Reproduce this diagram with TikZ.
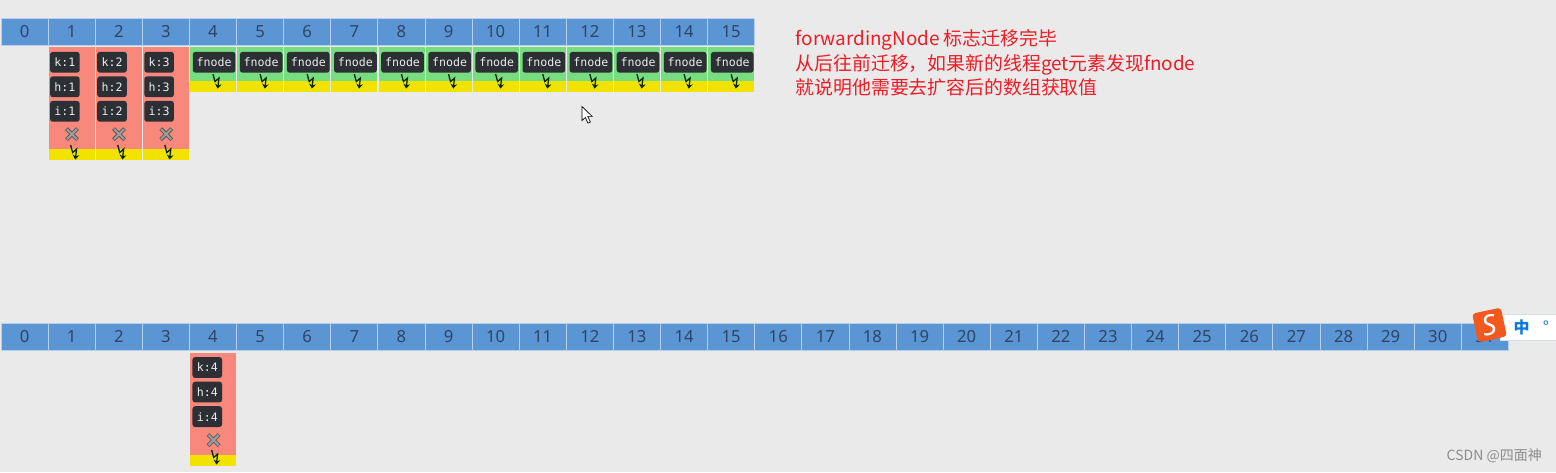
\documentclass[tikz,border=0pt]{standalone}
\usepackage{fontspec}
\setmainfont{Noto Sans}
\newfontfamily\cjk{Noto Sans CJK SC}
\newfontfamily\chipfont{DejaVu Sans Mono}
\usetikzlibrary{arrows.meta,positioning}
\definecolor{Paper}{HTML}{EAEAEA}
\definecolor{CellBlue}{HTML}{5B95D3}
\definecolor{CellLine}{HTML}{B5D0EC}
\definecolor{CellText}{HTML}{2C4666}
\definecolor{LightRed}{HTML}{F8877C}
\definecolor{LightGreen}{HTML}{78DC80}
\definecolor{Yellow}{HTML}{F2E200}
\definecolor{Chip}{HTML}{2C3034}
\definecolor{Note}{HTML}{EE1C25}
\definecolor{Sogou}{HTML}{F4581C}
\definecolor{ImeBlue}{HTML}{0A78E0}
\definecolor{ImeLine}{HTML}{D3DEEE}
\definecolor{Mark}{HTML}{8C8C8C}
\tikzset{
  cell/.style={fill=CellBlue, draw=CellLine, line width=0.6pt, outer sep=0pt, inner sep=0pt, minimum width=35.33pt, minimum height=20.2pt, text height=9pt, text depth=0pt, text=CellText, font=\fontsize{12.5}{14}\selectfont},
  bucket/.style={anchor=north west, fill=LightRed, inner sep=0pt, minimum width=34.5pt, minimum height=76.2pt},
  greenbucket/.style={anchor=north west, fill=LightGreen, inner sep=0pt, minimum width=34.5pt, minimum height=25.2pt},
  band/.style={anchor=north west, fill=Yellow, inner sep=0pt, minimum width=34.5pt, minimum height=8pt},
  chip/.style={fill=Chip, rounded corners=2pt, text=white!92!black, inner sep=0pt, minimum height=15.6pt, minimum width=22.2pt, text height=6.6pt, text depth=0pt, font=\chipfont\fontsize{8.7}{10}\selectfont},
  fnodechip/.style={chip, minimum width=32pt},
  bolt/.pic={\draw[line width=0.95pt, color=black!85!green, -{Stealth[length=3.5pt,width=5pt]}] (-3.5,-7) -- (-1.5,0.5) -- (2.5,-3) -- (1.2,7.5);},
  cross/.pic={\draw[line width=2.9pt, color=black!65] (-5.5,5.5) -- (5.5,-5.5) (-5.5,-5.5) -- (5.5,5.5);
    \draw[line width=1.5pt, color=black!38] (-5,5) -- (5,-5) (-5,-5) -- (5,5);},
}
\begin{document}
\begin{tikzpicture}[x=0.75pt, y=-0.75pt]
\useasboundingbox (0,0) rectangle (1556,472);
\fill[Paper] (0,0) rectangle (1556,472);
\node[cell, anchor=north west] (a0) at (1,18) {0};
\foreach \i [remember=\i as \prev (initially 0)] in {1,...,15}
  \node[cell, right=0pt of a\prev] (a\i) {\i};
\node[cell, anchor=north west] (b0) at (1,323) {0};
\foreach \i [remember=\i as \prev (initially 0)] in {1,...,31}
  \node[cell, right=0pt of b\prev] (b\i) {\i};
\foreach \i in {1,2,3} {
  \node[bucket, below=1.5pt of a\i.south west, anchor=north west, xshift=0.3pt] (r\i) {};
  \node[band] (y\i) at (r\i.south west) {};
  \node[chip, below=3.5pt of r\i.north west, anchor=north, xshift=12.3pt] (k\i) {k:\i};
  \node[chip, below=2.4pt of k\i] (h\i) {h:\i};
  \node[chip, below=2.4pt of h\i] (n\i) {i:\i};
  \pic at ([xshift=17.6pt,yshift=11.2pt]r\i.south west) {cross};
  \pic at ([xshift=19.2pt,yshift=-2.2pt]y\i.north west) {bolt};
}
\foreach \i in {4,...,15} {
  \node[greenbucket, below=1.5pt of a\i.south west, anchor=north west, xshift=0.3pt] (g\i) {};
  \node[band] (y\i) at (g\i.south west) {};
  \node[fnodechip, below=3.5pt of g\i.north west, anchor=north, xshift=18.2pt] (f\i) {fnode};
  \pic at ([xshift=20pt]y\i.north west) {bolt};
}
\node[bucket, below=2.2pt of b4.south west, anchor=north west, xshift=0.3pt] (rb) {};
\node[band] (yb) at (rb.south west) {};
\node[chip, below=3pt of rb.north west, anchor=north, xshift=13.1pt] (kb) {k:4};
\node[chip, below=2.4pt of kb] (hb) {h:4};
\node[chip, below=2.4pt of hb] (nb) {i:4};
\pic at ([xshift=17.8pt,yshift=11.2pt]rb.south west) {cross};
\pic at ([xshift=19pt,yshift=-1.5pt]yb.north west) {bolt};
\node[anchor=north west, align=left, inner sep=0pt, text=Note, font=\cjk\fontsize{14.15}{18.6}\selectfont] (note) at (795.5,29)
  {forwardingNode 标志迁移完毕\\从后往前迁移，如果新的线程get元素发现fnode\\就说明他需要去扩容后的数组获取值};
\draw[black, line width=0.5pt, fill=white] (582,106.5) -- (582,120.5) -- (585.3,117.5) -- (588,123.2) -- (590.4,122) -- (587.8,116.4) -- (592.2,116.4) -- cycle;
\node[fill=white, draw=ImeLine, line width=0.7pt, anchor=west, minimum width=60pt, minimum height=20pt, inner sep=0pt] (ime) at (1500,327.5) {};
\node[anchor=center, text=ImeBlue, font=\cjk\bfseries\fontsize{12}{14}\selectfont, inner sep=0pt] (zh) at (1521.5,327.5) {中};
\node[anchor=center, text=ImeBlue, font=\fontsize{11}{12}\selectfont\bfseries, inner sep=0pt] (dot) at (1546,326.5) {°};
\node[fill=Sogou, rounded corners=2.5pt, rotate=12, minimum size=22pt, inner sep=0pt, text=white, font=\bfseries\itshape\fontsize{21}{22}\selectfont] (logo) at (1489.5,325) {S};
\node[anchor=east, text=Mark, inner sep=0pt, font=\cjk\fontsize{10.5}{12}\selectfont] (mark) at (1542,456) {CSDN @四面神};
\end{tikzpicture}
\end{document}
